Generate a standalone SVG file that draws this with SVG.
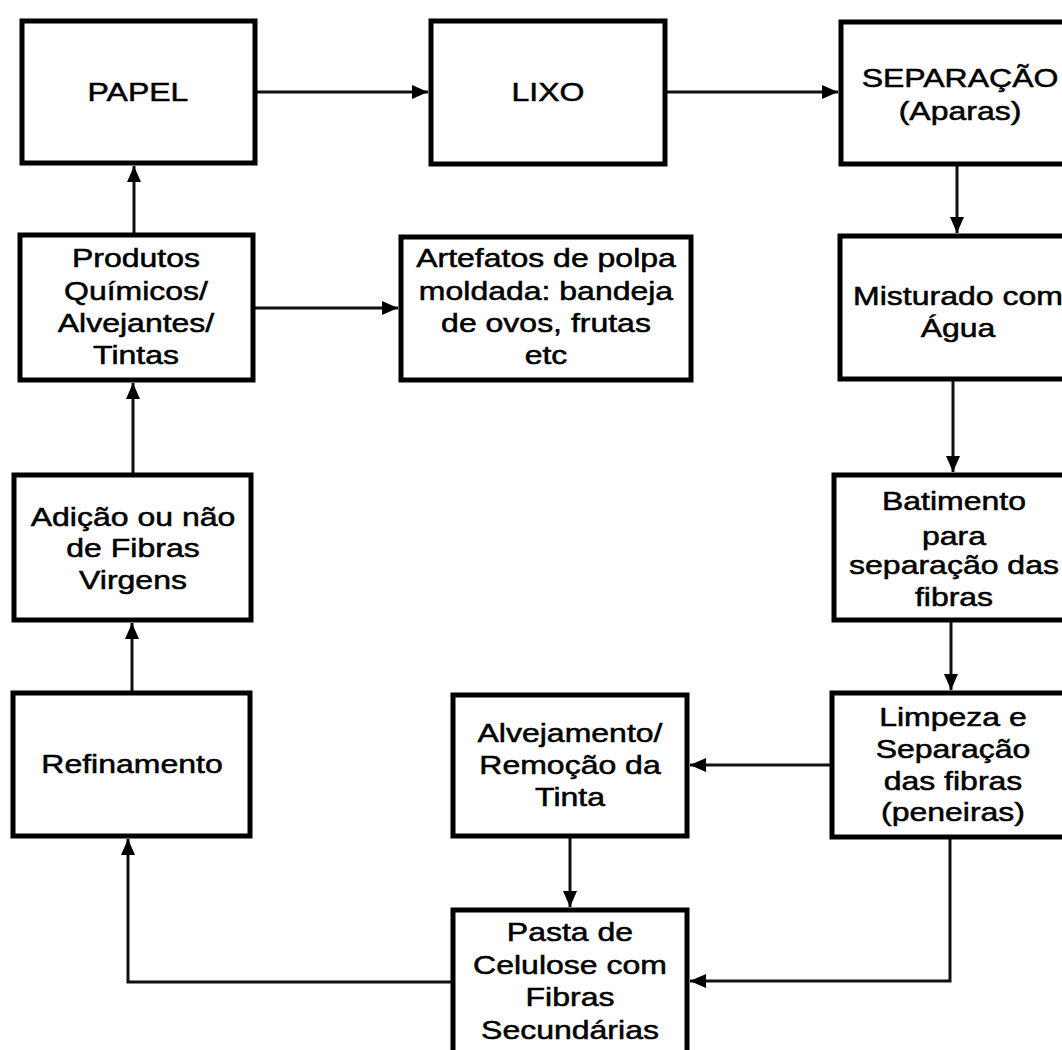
<svg xmlns="http://www.w3.org/2000/svg" width="1062" height="1050" viewBox="0 0 1062 1050">
<defs>
<style>
.box{fill:#fff;stroke:#000;stroke-width:5}
.lbl{font-family:"Liberation Sans",Arial,sans-serif;font-size:25px;fill:#000;stroke:#000;stroke-width:0.5;text-anchor:middle}
.con{fill:none;stroke:#111;stroke-width:3}
</style>
<marker id="ah" viewBox="0 0 16 14" refX="16" refY="7" markerUnits="userSpaceOnUse" markerWidth="16" markerHeight="14" orient="auto">
<path d="M0,0 L16,7 L0,14 z" fill="#000"/>
</marker>
</defs>
<rect width="1062" height="1050" fill="#fff"/>

<g id="connectors">
<path class="con" d="M255,92 H428" marker-end="url(#ah)"/>
<path class="con" d="M665,92 H838" marker-end="url(#ah)"/>
<path class="con" d="M957,164 V233" marker-end="url(#ah)"/>
<path class="con" d="M953,380 V472" marker-end="url(#ah)"/>
<path class="con" d="M951,620 V690" marker-end="url(#ah)"/>
<path class="con" d="M832,765 H690" marker-end="url(#ah)"/>
<path class="con" d="M570,836 V907" marker-end="url(#ah)"/>
<path class="con" d="M950,837 V981 H690" marker-end="url(#ah)"/>
<path class="con" d="M453,982 H128 V839" marker-end="url(#ah)"/>
<path class="con" d="M132,693 V623" marker-end="url(#ah)"/>
<path class="con" d="M133,475 V383" marker-end="url(#ah)"/>
<path class="con" d="M134,235 V166" marker-end="url(#ah)"/>
<path class="con" d="M253,308 H398" marker-end="url(#ah)"/>
</g>

<g id="papel">
<rect class="box" x="22" y="21" width="233" height="142"/>
<g transform="translate(138 0) scale(1.28 1)"><text class="lbl" x="0" y="101">PAPEL</text></g>
</g>

<g id="lixo">
<rect class="box" x="431" y="21" width="234" height="143"/>
<g transform="translate(548 0) scale(1.28 1)"><text class="lbl" x="0" y="101">LIXO</text></g>
</g>

<g id="separacao">
<rect class="box" x="841" y="22" width="240" height="142"/>
<g transform="translate(960 0) scale(1.28 1)"><text class="lbl" x="0" y="87">SEPARAÇÃO</text><text class="lbl" x="0" y="120">(Aparas)</text></g>
</g>

<g id="produtos">
<rect class="box" x="20" y="235" width="233" height="145"/>
<g transform="translate(136 0) scale(1.28 1)"><text class="lbl" x="0" y="267">Produtos</text><text class="lbl" x="0" y="300">Químicos/</text><text class="lbl" x="0" y="332">Alvejantes/</text><text class="lbl" x="0" y="364">Tintas</text></g>
</g>

<g id="artefatos">
<rect class="box" x="401" y="237" width="290" height="143"/>
<g transform="translate(546 0) scale(1.28 1)"><text class="lbl" x="0" y="267">Artefatos de polpa</text><text class="lbl" x="0" y="300">moldada: bandeja</text><text class="lbl" x="0" y="332">de ovos, frutas</text><text class="lbl" x="0" y="364">etc</text></g>
</g>

<g id="misturado">
<rect class="box" x="840" y="236" width="240" height="143"/>
<g transform="translate(958 0) scale(1.28 1)"><text class="lbl" x="0" y="305">Misturado com</text><text class="lbl" x="0" y="337">Água</text></g>
</g>

<g id="adicao">
<rect class="box" x="14" y="475" width="237" height="145"/>
<g transform="translate(133 0) scale(1.28 1)"><text class="lbl" x="0" y="526">Adição ou não</text><text class="lbl" x="0" y="557">de Fibras</text><text class="lbl" x="0" y="589">Virgens</text></g>
</g>

<g id="batimento">
<rect class="box" x="834" y="475" width="240" height="145"/>
<g transform="translate(954 0) scale(1.28 1)"><text class="lbl" x="0" y="510">Batimento</text><text class="lbl" x="0" y="545">para</text><text class="lbl" x="0" y="574">separação das</text><text class="lbl" x="0" y="606">fibras</text></g>
</g>

<g id="refinamento">
<rect class="box" x="13" y="693" width="237" height="143"/>
<g transform="translate(132 0) scale(1.28 1)"><text class="lbl" x="0" y="773">Refinamento</text></g>
</g>

<g id="alvejamento">
<rect class="box" x="453" y="695" width="234" height="141"/>
<g transform="translate(570 0) scale(1.28 1)"><text class="lbl" x="0" y="742">Alvejamento/</text><text class="lbl" x="0" y="774">Remoção da</text><text class="lbl" x="0" y="806">Tinta</text></g>
</g>

<g id="limpeza">
<rect class="box" x="832" y="693" width="240" height="144"/>
<g transform="translate(953 0) scale(1.28 1)"><text class="lbl" x="0" y="726">Limpeza e</text><text class="lbl" x="0" y="758">Separação</text><text class="lbl" x="0" y="790">das fibras</text><text class="lbl" x="0" y="821">(peneiras)</text></g>
</g>

<g id="pasta">
<rect class="box" x="453" y="910" width="234" height="160"/>
<g transform="translate(570 0) scale(1.28 1)"><text class="lbl" x="0" y="941">Pasta de</text><text class="lbl" x="0" y="974">Celulose com</text><text class="lbl" x="0" y="1006">Fibras</text><text class="lbl" x="0" y="1039">Secundárias</text></g>
</g>
</svg>
